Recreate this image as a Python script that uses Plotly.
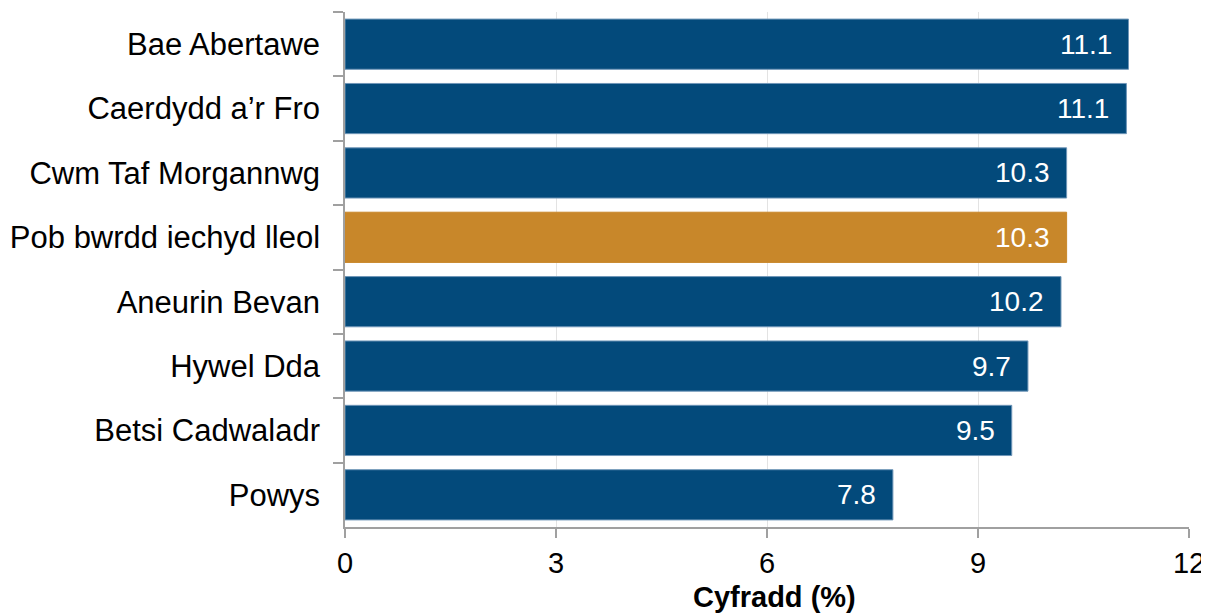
import plotly.graph_objects as go

categories = ["Bae Abertawe", "Caerdydd a\u2019r Fro", "Cwm Taf Morgannwg", "Pob bwrdd iechyd lleol",
              "Aneurin Bevan", "Hywel Dda", "Betsi Cadwaladr", "Powys"]
values = [11.1, 11.1, 10.3, 10.3, 10.2, 9.7, 9.5, 7.8]
# slightly more precise bar ends
bar_lengths = [11.14, 11.11, 10.26, 10.26, 10.18, 9.71, 9.48, 7.79]
labels = ["11.1", "11.1", "10.3", "10.3", "10.2", "9.7", "9.5", "7.8"]
x_ticks = [0, 3, 6, 9, 12]
x_title = "Cyfradd (%)"
highlight = "Pob bwrdd iechyd lleol"

BLUE = "#034A7B"
ORANGE = "#C8872A"
FONT = "Liberation Sans, Arial, sans-serif"
colors = [ORANGE if c == highlight else BLUE for c in categories]
edge = ["#C8872A" if c == highlight else "#6F96B8" for c in categories]

fig = go.Figure(go.Bar(
    y=categories, x=bar_lengths, orientation="h",
    marker=dict(color=colors, line=dict(color=edge, width=1)),
    width=0.78,
))

for cat, v, lab in zip(categories, bar_lengths, labels):
    fig.add_annotation(x=v, y=cat, text=lab, showarrow=False, xanchor="right",
                       xshift=-15, yshift=0,
                       font=dict(color="white", size=28, family=FONT))

fig.add_annotation(x=0.5, y=0, xref="paper", yref="paper", text="<b>" + x_title + "</b>",
                   showarrow=False, xanchor="center", yanchor="top", xshift=7, yshift=-53,
                   borderpad=0,
                   font=dict(size=29, family=FONT, color="black"))

fig.update_layout(
    width=1201, height=608,
    margin=dict(l=337, r=20, t=4, b=89),
    plot_bgcolor="white", paper_bgcolor="white",
    font=dict(family=FONT, size=31, color="black"),
    showlegend=False,
)
fig.update_xaxes(
    range=[0, 12], tickvals=x_ticks, ticktext=[str(t) for t in x_ticks],
    showgrid=True, gridcolor="#E3E3E3", gridwidth=1,
    showline=True, linecolor="#A0A0A0", linewidth=1.5,
    ticks="outside", ticklen=9, tickcolor="#A0A0A0", tickwidth=1.5,
    tickfont=dict(size=29), zeroline=False,
    ticklabeloverflow="allow",
    automargin=False,
)
fig.update_yaxes(
    autorange="reversed", categoryorder="array", categoryarray=categories,
    showline=True, linecolor="#A0A0A0", linewidth=1.5,
    ticks="outside", ticklen=10, tickcolor="#A0A0A0", tickwidth=1.5,
    tickson="boundaries", showgrid=False,
    tickfont=dict(size=31), ticklabelstandoff=17,
    automargin=False,
)

fig.write_html("out.html")
